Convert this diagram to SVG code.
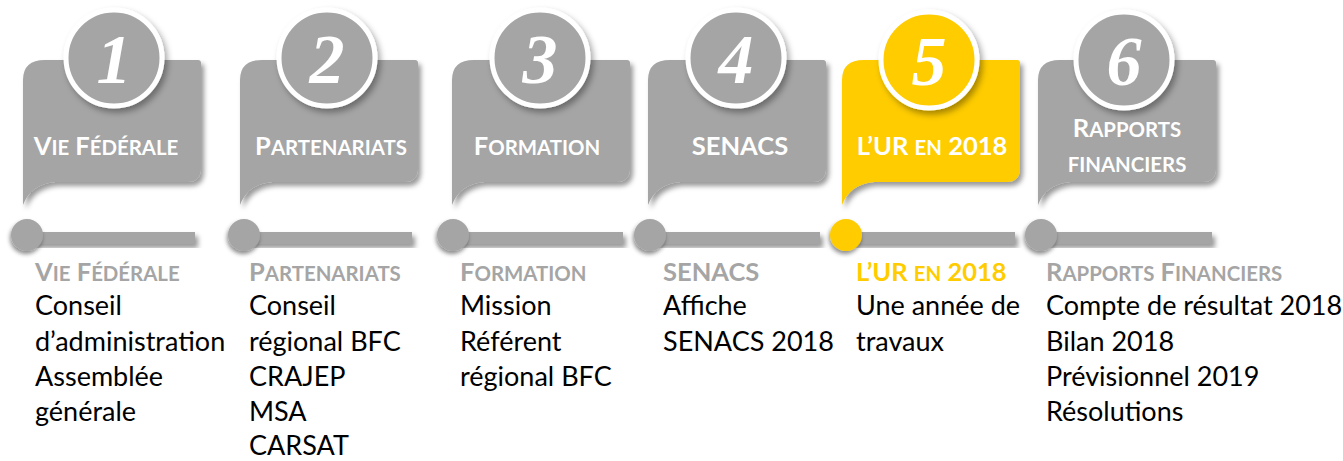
<svg xmlns="http://www.w3.org/2000/svg" width="1343" height="461" viewBox="0 0 1343 461">
<defs>
<filter id="sh" x="-20%" y="-20%" width="150%" height="150%">
<feDropShadow dx="3" dy="4" stdDeviation="2.5" flood-color="#000" flood-opacity="0.4"/>
</filter>
<filter id="shc" x="-30%" y="-30%" width="170%" height="170%">
<feDropShadow dx="3" dy="4" stdDeviation="3" flood-color="#000" flood-opacity="0.35"/>
</filter>
<filter id="shd" x="-50%" y="-50%" width="200%" height="200%">
<feDropShadow dx="-1" dy="3" stdDeviation="2" flood-color="#000" flood-opacity="0.45"/>
</filter>
<path id="bubble" d="M0,205 L0,80 Q0,60 22,60 L175,60 Q178,60 178,63 L178,168 Q178,182 164,182 L32,182 Q8,184 0,205 Z"/>
</defs>
<style>
.card{fill:#A5A5A5;filter:url(#sh)}
.yel .card{fill:#FFCC00}
.ring{fill:#A5A5A5;stroke:#fff;stroke-width:5;filter:url(#shc)}
.yel .ring{fill:#FFCC00}
.num{font-family:"Liberation Serif",serif;font-weight:bold;font-style:italic;font-size:70px;fill:#fff;text-anchor:middle}
.ct{font-family:Lato,"Liberation Sans",sans-serif;font-weight:bold;font-size:25.5px;fill:#fff;text-anchor:middle}
.sc{font-size:20.4px}
.hd{font-family:Lato,"Liberation Sans",sans-serif;font-weight:bold;font-size:25.5px;fill:#A5A5A5}
.yel .hd{fill:#FFCC00}
.bd{font-family:Lato,"Liberation Sans",sans-serif;font-size:27px;fill:#000}
.bar{fill:#A5A5A5;filter:url(#sh)}
.dot{fill:#A5A5A5;filter:url(#shd)}
.dot.y{fill:#FFCC00}
</style>

<g id="connectors">
<rect class="bar" x="30" y="232" width="165" height="12"/>
<rect class="bar" x="247" y="232" width="165" height="12"/>
<rect class="bar" x="456" y="232" width="167" height="12"/>
<rect class="bar" x="653" y="232" width="167" height="12"/>
<rect class="bar" x="849" y="232" width="166" height="12"/>
<rect class="bar" x="1044" y="232" width="168" height="12"/>
<circle class="dot" cx="27" cy="235" r="16"/>
<circle class="dot" cx="244" cy="235" r="16"/>
<circle class="dot" cx="453" cy="235" r="16"/>
<circle class="dot" cx="650" cy="235" r="16"/>
<circle class="dot y" cx="846" cy="235" r="16"/>
<circle class="dot" cx="1041" cy="235" r="16"/>
</g>

<g id="step1">
<use class="card" href="#bubble" x="23"/>
<circle class="ring" cx="114" cy="58" r="48"/>
<text class="num" x="114" y="83">1</text>
<text class="ct" x="106" y="155">V<tspan class="sc">IE</tspan> F<tspan class="sc">ÉDÉRALE</tspan></text>
<text class="hd" x="35" y="281">V<tspan class="sc">IE</tspan> F<tspan class="sc">ÉDÉRALE</tspan></text>
<text class="bd" x="35" y="315">Conseil</text>
<text class="bd" x="35" y="351">d’administration</text>
<text class="bd" x="35" y="386">Assemblée</text>
<text class="bd" x="35" y="421">générale</text>
</g>

<g id="step2">
<use class="card" href="#bubble" x="240"/>
<circle class="ring" cx="327" cy="58" r="48"/>
<text class="num" x="327" y="83">2</text>
<text class="ct" x="331" y="155">P<tspan class="sc">ARTENARIATS</tspan></text>
<text class="hd" x="249" y="281">P<tspan class="sc">ARTENARIATS</tspan></text>
<text class="bd" x="249" y="315">Conseil</text>
<text class="bd" x="249" y="351">régional BFC</text>
<text class="bd" x="249" y="386">CRAJEP</text>
<text class="bd" x="249" y="421">MSA</text>
<text class="bd" x="249" y="455">CARSAT</text>
</g>

<g id="step3">
<use class="card" href="#bubble" x="452"/>
<circle class="ring" cx="540" cy="58" r="48"/>
<text class="num" x="540" y="83">3</text>
<text class="ct" x="537" y="155">F<tspan class="sc">ORMATION</tspan></text>
<text class="hd" x="460" y="281">F<tspan class="sc">ORMATION</tspan></text>
<text class="bd" x="460" y="315">Mission</text>
<text class="bd" x="460" y="351">Référent</text>
<text class="bd" x="460" y="386">régional BFC</text>
</g>

<g id="step4">
<use class="card" href="#bubble" x="648"/>
<circle class="ring" cx="736" cy="58" r="48"/>
<text class="num" x="736" y="83">4</text>
<text class="ct" x="740" y="155">SENACS</text>
<text class="hd" x="663" y="281">SENACS</text>
<text class="bd" x="663" y="315">Affiche</text>
<text class="bd" x="663" y="351">SENACS 2018</text>
</g>

<g id="step5" class="yel">
<use class="card" href="#bubble" x="842"/>
<circle class="ring" cx="929" cy="60" r="48"/>
<text class="num" x="929" y="85">5</text>
<text class="ct" x="932" y="155">L’UR <tspan class="sc">EN</tspan> 2018</text>
<text class="hd" x="856" y="281">L’UR <tspan class="sc">EN</tspan> 2018</text>
<text class="bd" x="856" y="315">Une année de</text>
<text class="bd" x="856" y="351">travaux</text>
</g>

<g id="step6">
<use class="card" href="#bubble" x="1038"/>
<circle class="ring" cx="1124" cy="60" r="48"/>
<text class="num" x="1124" y="85">6</text>
<text class="ct" x="1127" y="137">R<tspan class="sc">APPORTS</tspan></text>
<text class="ct sc" x="1127" y="172">FINANCIERS</text>
<text class="hd" x="1046" y="281">R<tspan class="sc">APPORTS</tspan> F<tspan class="sc">INANCIERS</tspan></text>
<text class="bd" x="1046" y="315">Compte de résultat 2018</text>
<text class="bd" x="1046" y="351">Bilan 2018</text>
<text class="bd" x="1046" y="386">Prévisionnel 2019</text>
<text class="bd" x="1046" y="421">Résolutions</text>
</g>
</svg>
